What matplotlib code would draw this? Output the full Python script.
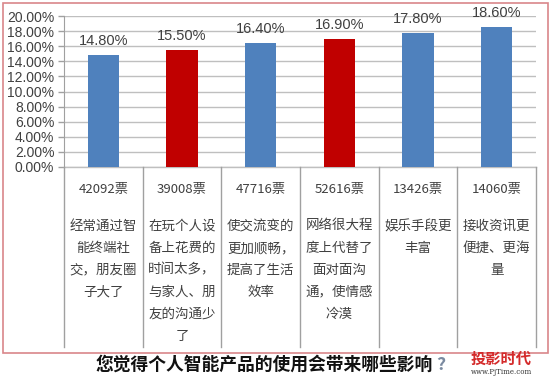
import matplotlib.pyplot as plt
import matplotlib.transforms as mtransforms
from matplotlib.patches import Rectangle
import numpy as np

plt.rcParams['font.family'] = ['Noto Sans CJK SC', 'DejaVu Sans']

# data
shares = [0.148, 0.155, 0.164, 0.169, 0.178, 0.186]
share_labels = ['14.80%', '15.50%', '16.40%', '16.90%', '17.80%', '18.60%']
votes = ['42092票', '39008票', '47716票', '52616票', '13426票', '14060票']
answers = [
    '经常通过智\n能终端社\n交，朋友圈\n子大了',
    '在玩个人设\n备上花费的\n时间太多，\n与家人、朋\n友的沟通少\n了',
    '使交流变的\n更加顺畅，\n提高了生活\n效率',
    '网络很大程\n度上代替了\n面对面沟\n通，使情感\n冷漠',
    '娱乐手段更\n丰富',
    '接收资讯更\n便捷、更海\n量',
]
highlight = [False, True, False, True, False, False]
title = '您觉得个人智能产品的使用会带来哪些影响'

W, H = 550, 379
fig = plt.figure(figsize=(W / 100, H / 100), dpi=100)
fig.patch.set_facecolor('white')

# plot area in pixels: x 64..536, y 16..167
ax = fig.add_axes([64 / W, 1 - 167 / H, 472 / W, 151 / H])

x = np.arange(len(shares))
colors = ['#c00000' if h else '#4f81bd' for h in highlight]
bars = ax.bar(x, shares, width=0.4, color=colors, zorder=3)
ax.bar_label(bars, labels=share_labels, padding=5, fontsize=10.5, color='#404040',
             family=['Liberation Sans'])

ax.set_xlim(-0.5, len(shares) - 0.5)
ax.set_ylim(0, 0.20)
yt = np.arange(0, 0.2001, 0.02)
ax.set_yticks(yt, ['%.2f%%' % (v * 100) for v in yt])
ax.tick_params(axis='y', labelsize=10, labelcolor='#404040', color='#a0a0a0',
               length=4, width=1, pad=3)
for lab in ax.get_yticklabels():
    lab.set_family(['Liberation Sans'])
ax.set_xticks([])
ax.grid(axis='y', color='#bfbfbf', linewidth=1, zorder=0)
for s in ['top', 'right', 'bottom']:
    ax.spines[s].set_visible(False)
ax.spines['left'].set_color('#a0a0a0')

# table lines below the plot: x in data, y in figure
trans = mtransforms.blended_transform_factory(ax.transData, fig.transFigure)
ax.plot([-0.5, len(shares) - 0.5], [1 - 167 / H] * 2, color='#bfbfbf', lw=1,
        transform=trans, clip_on=False)
for b in np.arange(-0.5, len(shares), 1.0):
    ax.plot([b, b], [1 - 167 / H, 1 - 347 / H], color='#a0a0a0', lw=1,
            transform=trans, clip_on=False)

for i in range(len(shares)):
    ax.text(i, 1 - 190 / H, votes[i], transform=trans, ha='center', va='center',
            fontsize=9.5, color='#404040')
    ax.text(i, 1 - 219 / H, answers[i], transform=trans, ha='center', va='top',
            fontsize=9.7, color='#404040', linespacing=1.72)

# outer border
fig.patches.append(Rectangle((3 / W, 1 - 353 / H), 545 / W, 350 / H,
                             transform=fig.transFigure, fill=False,
                             edgecolor='#d9868a', lw=1.2))

fig.text(264 / W, 1 - 365 / H, title, ha='center', va='center', fontsize=12.8,
         fontweight='bold', color='#111111')
fig.text(441 / W, 1 - 365 / H, '?', ha='center', va='center', fontsize=12.8,
         fontweight='bold', color='#7a8aa0')

# watermark
fig.text(532 / W, 1 - 359 / H, '投影时代', ha='right', va='center', fontsize=11,
         fontweight='bold', color='#d42a2a')
fig.text(532 / W, 1 - 372 / H, 'www.PjTime.com', ha='right', va='center',
         fontsize=5, color='#333333', family=['DejaVu Serif'])

fig.savefig('out.png', dpi=100)
